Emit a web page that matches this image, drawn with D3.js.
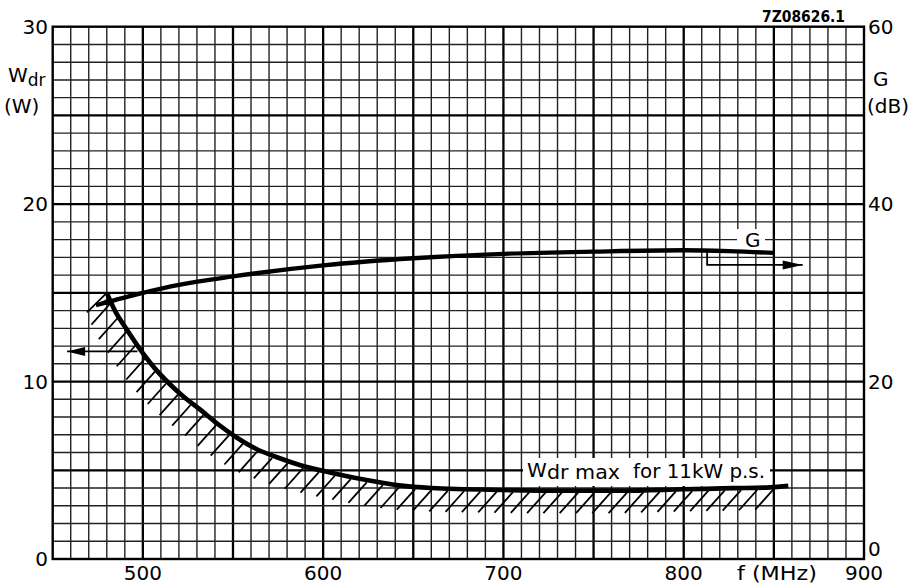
<!DOCTYPE html>
<html><head><meta charset="utf-8">
<script src="https://cdn.jsdelivr.net/npm/d3@7"></script>
<style>
body{margin:0;background:#fff}
svg{display:block}
text{font-family:"DejaVu Sans","Liberation Sans",sans-serif;fill:#000}
</style>
</head><body>
<svg id="c" width="924" height="585"></svg>
<script>
// ---- data ----
const xTicks = [500, 600, 700, 800, 900];
const wTicks = [0, 10, 20, 30];
const gTicks = [0, 20, 40, 60];
// G (dB) vs frequency (MHz), right axis
const gFreq = [474, 500, 520, 550, 600, 650, 700, 750, 800, 825, 850];
const gDb   = [28.6, 30.0, 30.9, 31.85, 33.1, 33.9, 34.4, 34.65, 34.8, 34.7, 34.5];
// Wdr max (W) vs frequency (MHz), left axis
const wFreq = [480, 485, 490, 500, 507, 515, 522, 532, 541, 552, 563, 574, 587, 605, 624, 642, 660, 700, 735, 765, 800, 827, 848, 858];
const wW    = [15.0, 13.9, 13.1, 11.6, 10.7, 9.85, 9.2, 8.4, 7.65, 6.85, 6.2, 5.75, 5.3, 4.85, 4.45, 4.15, 4.0, 3.89, 3.85, 3.85, 3.93, 3.99, 4.04, 4.12];
// thin edge line at start of the Wdr region
const edgeFreq = [469, 480];
const edgeW    = [13.9, 15.0];
// axis indicator arrows
const leftArrowFreq = [497, 458];
const leftArrowW    = [11.7, 11.7];
const rightArrowFreq = [813, 813, 866];
const rightArrowDb   = [34.55, 33.15, 33.15];

// ---- layout ----
const svg = d3.select("#c");
const L = 52.7, R = 864, T = 26.7, B = 559;
const x = d3.scaleLinear().domain([450, 900]).range([L, R]);
const yW = d3.scaleLinear().domain([0, 30]).range([B, T]);
const yG = d3.scaleLinear().domain([0, 60]).range([B, T]);

// grid
const grid = svg.append("g");
d3.range(460, 900, 10).forEach(f => {
  const maj = f % 50 === 0;
  grid.append("line").attr("x1", x(f)).attr("x2", x(f)).attr("y1", T).attr("y2", B)
    .attr("stroke", maj ? "#000" : "#222").attr("stroke-width", maj ? 2.3 : 1.4);
});
d3.range(1, 30, 1).forEach(w => {
  const maj = w % 5 === 0;
  grid.append("line").attr("x1", L).attr("x2", R).attr("y1", yW(w)).attr("y2", yW(w))
    .attr("stroke", maj ? "#000" : "#222").attr("stroke-width", maj ? 2.3 : 1.4);
});
grid.append("rect").attr("x", L).attr("y", T).attr("width", R - L).attr("height", B - T)
  .attr("fill", "none").attr("stroke", "#000").attr("stroke-width", 2.4);

// label backgrounds
svg.append("rect").attr("x", 523).attr("y", 458).attr("width", 247).attr("height", 28).attr("fill", "#fff");
svg.append("rect").attr("x", 737).attr("y", 229).attr("width", 28).attr("height", 21).attr("fill", "#fff");

// curves
const gPts = gFreq.map((f, i) => [x(f), yG(gDb[i])]);
const wPts = wFreq.map((f, i) => [x(f), yW(wW[i])]);
const line = d3.line().curve(d3.curveMonotoneX);
svg.append("path").attr("d", line(gPts)).attr("fill", "none")
  .attr("stroke", "#000").attr("stroke-width", 4.3).attr("stroke-linecap", "butt");
const wPath = svg.append("path").attr("d", line(wPts)).attr("fill", "none")
  .attr("stroke", "#000").attr("stroke-width", 4.7).attr("stroke-linejoin", "round");

// edge line
svg.append("path").attr("d", d3.line()(edgeFreq.map((f, i) => [x(f), yW(edgeW[i])])))
  .attr("stroke", "#000").attr("stroke-width", 1.8).attr("fill", "none");

// hatches along the Wdr curve
const node = wPath.node();
const total = node.getTotalLength();
const hatch = svg.append("g").attr("stroke", "#000").attr("stroke-width", 1.8);
for (let s = 10; s <= total; s += 16.3) {
  const p = node.getPointAtLength(s);
  const len = s > total - 5 ? 1.4 : 1.08;
  hatch.append("line").attr("x1", p.x - 1).attr("y1", p.y + 2)
    .attr("x2", p.x - 1 - 17 * len).attr("y2", p.y + 2 + 19 * len);
}

// arrowhead helper
function head(tip, from, len, hw) {
  const dx = tip[0] - from[0], dy = tip[1] - from[1];
  const d = Math.hypot(dx, dy), ux = dx / d, uy = dy / d;
  const bx = tip[0] - ux * len, by = tip[1] - uy * len;
  return `M${tip[0]},${tip[1]}L${bx - uy * hw},${by + ux * hw}L${bx + uy * hw},${by - ux * hw}Z`;
}
// G arrowhead at left end
svg.append("path").attr("d", head(gPts[0], [x(gFreq[0] + 6), yG(gDb[0] + 0.35)], 15, 3.8)).attr("fill", "#000");

// left arrow
const la = leftArrowFreq.map((f, i) => [x(f), yW(leftArrowW[i])]);
svg.append("path").attr("d", d3.line()(la)).attr("stroke", "#000").attr("stroke-width", 1.8).attr("fill", "none");
svg.append("path").attr("d", head(la[1], la[0], 18, 4.5)).attr("fill", "#000");
// right arrow
const ra = rightArrowFreq.map((f, i) => [x(f), yG(rightArrowDb[i])]);
svg.append("path").attr("d", d3.line()(ra)).attr("stroke", "#000").attr("stroke-width", 1.8).attr("fill", "none");
svg.append("path").attr("d", head(ra[2], ra[1], 20, 4.5)).attr("fill", "#000");

// tick labels
const fs = 20;
xTicks.forEach(t => svg.append("text").attr("x", x(t)).attr("y", 580).attr("text-anchor", "middle")
  .attr("font-size", fs).text(t));
wTicks.forEach(t => svg.append("text").attr("x", 48).attr("y", yW(t) + 7.3).attr("text-anchor", "end")
  .attr("font-size", fs).text(t));
gTicks.forEach(t => svg.append("text").attr("x", 868).attr("y", Math.min(yG(t) + 7.3, 556))
  .attr("font-size", fs).text(t));

// axis titles
const wt = svg.append("text").attr("x", 8).attr("y", 82).attr("font-size", fs);
wt.append("tspan").text("W");
wt.append("tspan").attr("font-size", 17).attr("dy", 4).text("dr");
svg.append("text").attr("x", 4).attr("y", 113).attr("font-size", fs).text("(W)");
svg.append("text").attr("x", 873).attr("y", 86).attr("font-size", fs).text("G");
svg.append("text").attr("x", 867).attr("y", 113).attr("font-size", fs).text("(dB)");
svg.append("text").attr("x", 737).attr("y", 580).attr("font-size", fs)
  .attr("textLength", 80).attr("lengthAdjust", "spacingAndGlyphs").text("f (MHz)");
svg.append("text").attr("x", 762).attr("y", 22).attr("font-size", 15)
  .attr("font-weight", "bold").attr("textLength", 83).attr("lengthAdjust", "spacingAndGlyphs").text("7Z08626.1");

// curve labels
svg.append("text").attr("x", 745).attr("y", 247).attr("font-size", fs).text("G");
svg.append("text").attr("x", 527).attr("y", 476.5).attr("font-size", fs).text("W");
svg.append("text").attr("x", 547).attr("y", 479).attr("font-size", 19)
  .attr("textLength", 73).attr("lengthAdjust", "spacingAndGlyphs").text("dr max");
svg.append("text").attr("x", 633).attr("y", 477.5).attr("font-size", fs)
  .attr("textLength", 132).attr("lengthAdjust", "spacingAndGlyphs").text("for 11kW p.s.");
</script>
</body></html>
